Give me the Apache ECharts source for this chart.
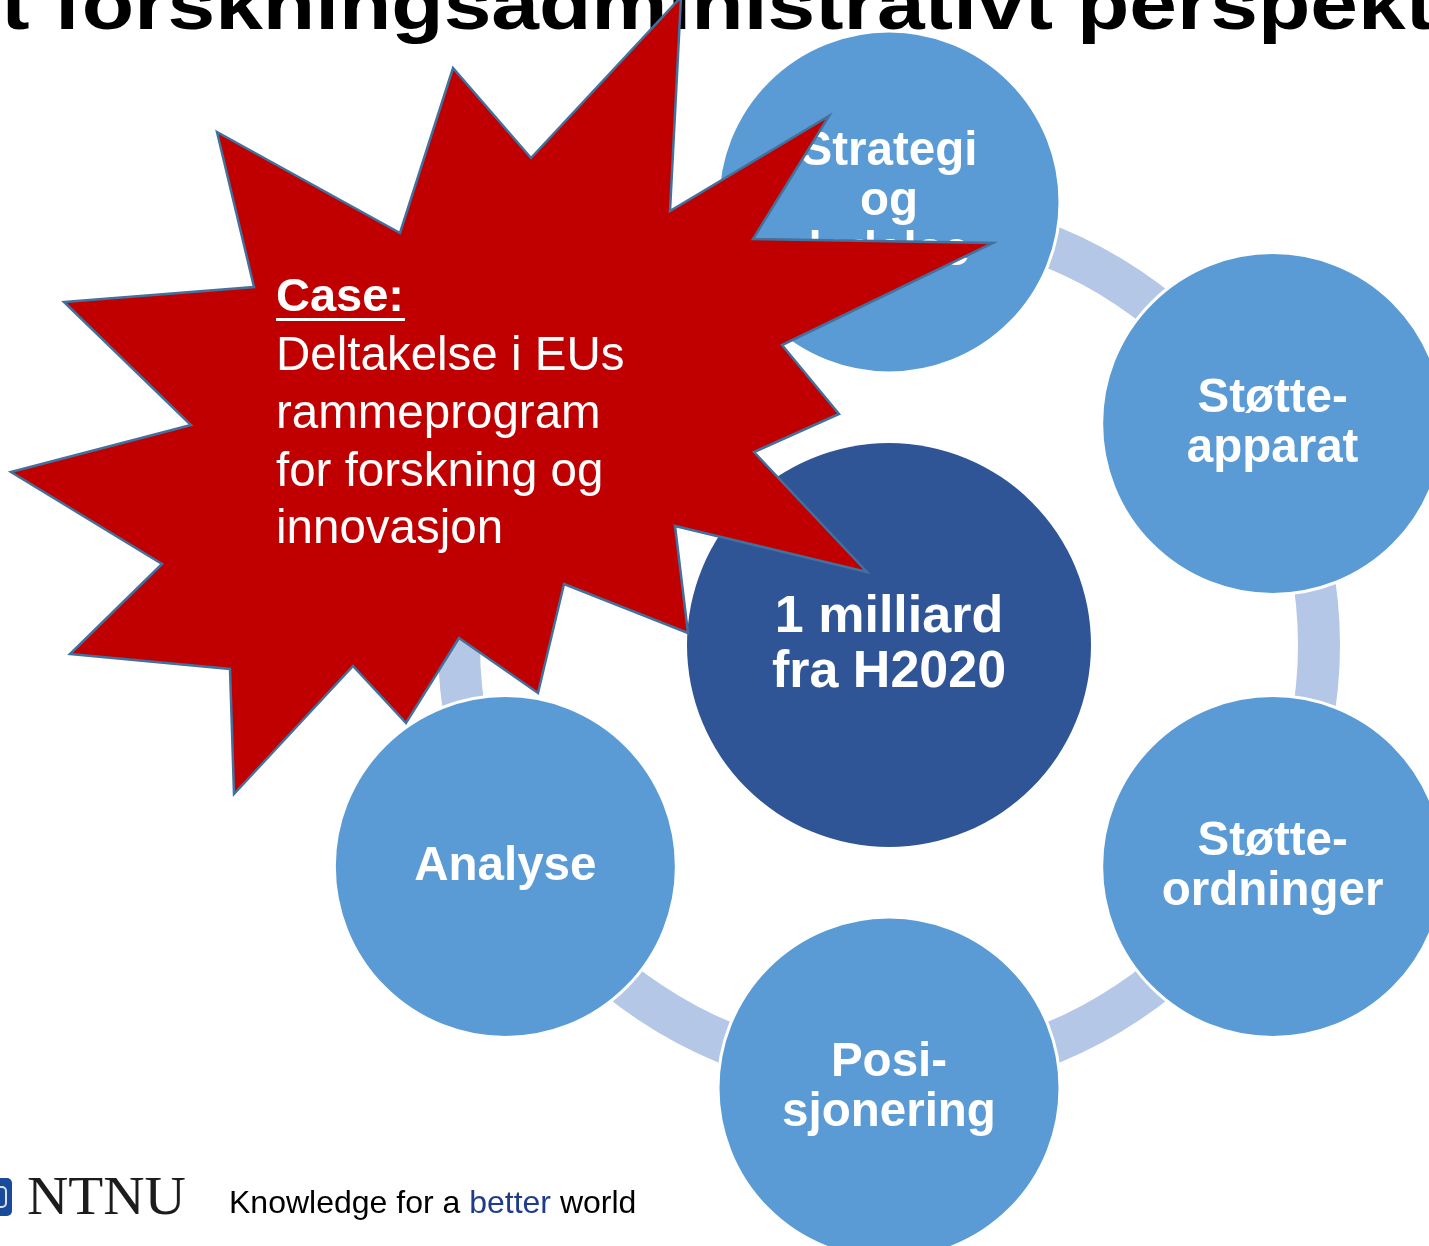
<!DOCTYPE html>
<html>
<head>
<meta charset="utf-8">
<script src="https://cdn.jsdelivr.net/npm/echarts@6/dist/echarts.min.js"></script>
<style>
html, body { margin: 0; padding: 0; background: #fff; }
#chart { width: 1429px; height: 1246px; }
</style>
</head>
<body>
<div id="chart"></div>
<script>
// diagram content
var nodeNames = ['Strategi\nog\nledelse', 'Støtte-\napparat', 'Støtte-\nordninger', 'Posi-\nsjonering', 'Analyse', ''];
var nodeAngles = [0, 60, 120, 180, 240, 300];
var nodeRing = [1, 1, 1, 1, 1, 1];
var centerName = '1 milliard\nfra H2020';
var caseTitle = 'Case:';
var caseLines = ['Deltakelse i EUs', 'rammeprogram', 'for forskning og', 'innovasjon'];
var titleText = 't forskningsadministrativt perspekt';
var footerParts = ['Knowledge for a ', 'better', ' world'];

(function() {
  var font = '"Liberation Sans", Arial, sans-serif';
  var chart = echarts.init(document.getElementById('chart'), null, { renderer: 'canvas' });

  var outerData = nodeNames.map(function(name, i) {
    return { name: name, value: [nodeRing[i], nodeAngles[i]] };
  });

  // star outline (decoration)
  var star = [
    [217, 132], [400, 233], [453, 68], [531, 158], [681, -3], [670, 211],
    [829, 116], [753, 239], [993, 243], [782, 345], [839, 414], [754, 452],
    [867, 572], [675, 526], [688, 633], [564, 584], [538, 693], [459, 638],
    [406, 723], [353, 666], [234, 794], [230, 669], [70, 654], [162, 564],
    [11, 472], [191, 425], [64, 302], [254, 287]
  ];

  var graphics = [];
  graphics.push({
    type: 'text', x: 1, y: 9, scaleX: 1.19, z: 50,
    style: { text: titleText, font: 'bold 72px ' + font, fill: '#000', textAlign: 'left', textVerticalAlign: 'middle' }
  });
  graphics.push({
    type: 'polygon', z: 100,
    shape: { points: star },
    style: { fill: '#c00000', stroke: '#41719c', lineWidth: 2.5 }
  });
  graphics.push({
    type: 'text', x: 276, y: 298, z: 101,
    style: { text: caseTitle, font: 'bold 47px ' + font, fill: '#fff', textAlign: 'left', textVerticalAlign: 'middle' }
  });
  graphics.push({
    type: 'rect', z: 101,
    shape: { x: 276, y: 318, width: 129, height: 3 },
    style: { fill: '#fff' }
  });
  caseLines.forEach(function(line, i) {
    graphics.push({
      type: 'text', x: 276, y: 357 + i * 57.8, z: 101,
      style: { text: line, font: '47.5px ' + font, fill: '#fff', textAlign: 'left', textVerticalAlign: 'middle' }
    });
  });

  // footer logo
  graphics.push({
    type: 'rect', z: 50,
    shape: { x: -24, y: 1178, width: 36, height: 38, r: 5 },
    style: { fill: '#1a4a9c' }
  });
  graphics.push({
    type: 'rect', z: 51,
    shape: { x: -20, y: 1187, width: 26, height: 20, r: 4 },
    style: { fill: 'none', stroke: '#d8e2f2', lineWidth: 2 }
  });
  graphics.push({
    type: 'text', x: 27, y: 1200, scaleX: 1.04, z: 50,
    style: { text: 'NTNU', font: '55px "Liberation Serif", "Times New Roman", serif', fill: '#1c1c1c', textAlign: 'left', textVerticalAlign: 'middle' }
  });
  graphics.push({
    type: 'text', x: 229, y: 1204, z: 50,
    style: {
      text: '{a|' + footerParts[0] + '}{b|' + footerParts[1] + '}{a|' + footerParts[2] + '}',
      textAlign: 'left', textVerticalAlign: 'middle',
      rich: {
        a: { font: '32px ' + font, fill: '#000', color: '#000' },
        b: { font: '32px ' + font, fill: '#1f3c8c', color: '#1f3c8c' }
      }
    }
  });

  chart.setOption({
    animation: false,
    polar: { center: [889, 645], radius: 443 },
    radiusAxis: { type: 'value', min: 0, max: 1, show: false },
    angleAxis: { type: 'value', min: 0, max: 360, startAngle: 90, clockwise: true, show: false },
    series: [
      {
        type: 'pie',
        center: [889, 645],
        radius: [409, 451],
        silent: true,
        z: 1,
        label: { show: false },
        labelLine: { show: false },
        itemStyle: { color: '#b4c7e7', borderWidth: 0 },
        emphasis: { disabled: true },
        data: [{ value: 1, name: 'ring' }]
      },
      {
        type: 'scatter',
        coordinateSystem: 'polar',
        symbol: 'circle',
        symbolSize: 342,
        z: 2,
        silent: true,
        itemStyle: { color: '#5b9bd5', borderColor: '#fff', borderWidth: 3, opacity: 1 },
        label: {
          show: true, position: 'inside', formatter: '{b}',
          color: '#fff', fontSize: 47.5, fontWeight: 'bold', fontFamily: font, lineHeight: 50
        },
        data: outerData
      },
      {
        type: 'scatter',
        coordinateSystem: 'polar',
        symbol: 'circle',
        symbolSize: 404,
        z: 3,
        silent: true,
        itemStyle: { color: '#2f5597', borderColor: '#fff', borderWidth: 0, opacity: 1 },
        label: {
          show: true, position: 'inside', formatter: '{b}',
          color: '#fff', fontSize: 52, fontWeight: 'bold', fontFamily: font, lineHeight: 55
        },
        data: [{ name: centerName, value: [0, 0] }]
      }
    ],
    graphic: { elements: graphics }
  });
  window.addEventListener('resize', function() { chart.resize(); });
})();
</script>
</body>
</html>
